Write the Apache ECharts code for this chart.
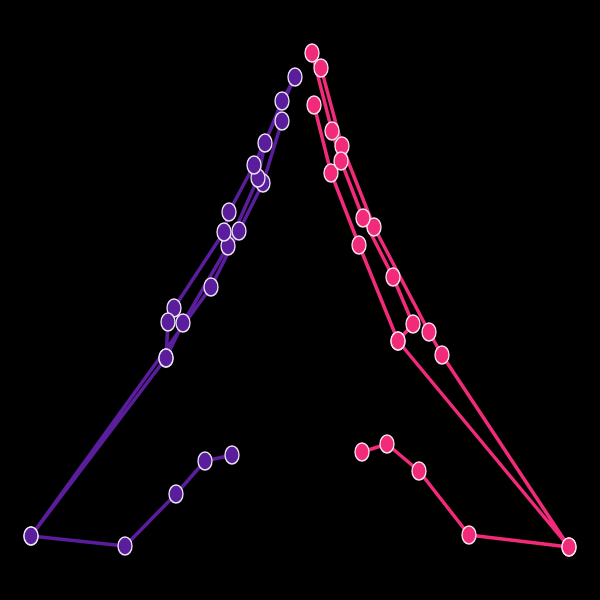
<!DOCTYPE html>
<html>
<head>
<meta charset="utf-8">
<script src="https://cdn.jsdelivr.net/npm/echarts@6/dist/echarts.min.js"></script>
<style>
html,body{margin:0;padding:0;background:#000;}
#chart{width:600px;height:600px;}
</style>
</head>
<body>
<div id="chart"></div>
<script>
var purpleX = [282,263,239,211,31,166,183,228,258,265,282,295,254,229,224,174,168,166,31,125,176,205,232];
var purpleY = [121,183,231,287,536,358,323,246,178,143,101,77,165,212,232,308,322,358,536,546,494,461,455];
var pinkX = [314,331,359,398,569,442,429,374,342,321,312,332,341,363,393,413,398,569,469,419,387,362];
var pinkY = [105,173,245,341,547,355,332,227,146,68,53,131,161,218,277,324,341,547,535,471,444,452];

function pairs(xs, ys){ return xs.map(function(x,i){ return [x, ys[i]]; }); }

var chart = echarts.init(document.getElementById('chart'));
chart.setOption({
  backgroundColor: '#000',
  animation: false,
  grid: {left: 0, right: 0, top: 0, bottom: 0},
  xAxis: {type: 'value', min: 0, max: 600, show: false},
  yAxis: {type: 'value', min: 0, max: 600, inverse: true, show: false},
  series: [
    {
      type: 'line', data: pairs(purpleX, purpleY),
      symbol: 'circle', symbolSize: [14, 18],
      lineStyle: {color: '#5a1d9c', width: 3.5},
      itemStyle: {color: '#5a1d9c', borderColor: '#ece4f4', borderWidth: 1.5}
    },
    {
      type: 'line', data: pairs(pinkX, pinkY),
      symbol: 'circle', symbolSize: [14, 18],
      lineStyle: {color: '#f22a7a', width: 3.5},
      itemStyle: {color: '#f22a7a', borderColor: '#fbe4ee', borderWidth: 1.5}
    }
  ]
});
</script>
</body>
</html>
